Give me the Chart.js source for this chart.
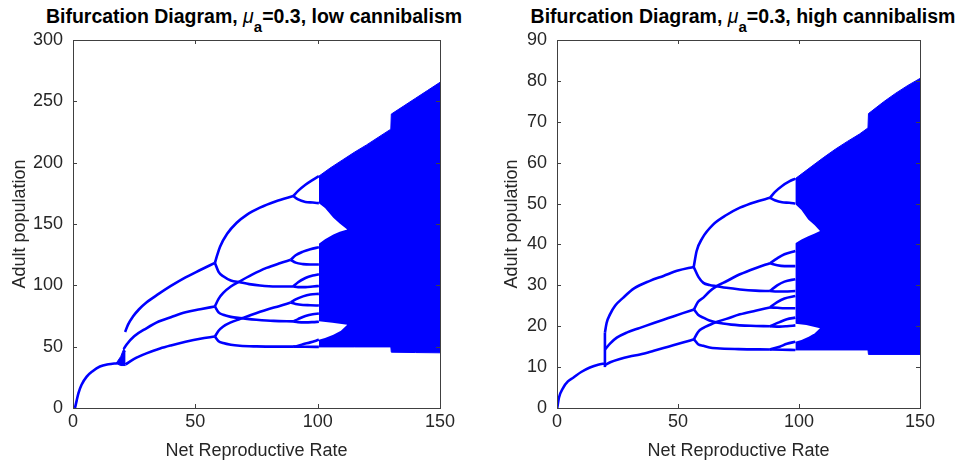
<!DOCTYPE html>
<html>
<head>
<meta charset="utf-8">
<script src="https://cdn.jsdelivr.net/npm/chart.js@4.4.1/dist/chart.umd.min.js"></script>
<style>
  body { margin: 0; background: #fff; width: 961px; height: 464px; position: relative; overflow: hidden;
         font-family: "Liberation Sans", Arial, sans-serif; }
  .ttl { position: absolute; top: 5px; font-weight: bold; font-size: 19.5px; color: #000; white-space: nowrap;
         transform: translateX(-50%); line-height: 22px; }
  .ttl i { font-weight: normal; }
  .ttl sub { font-size: 15px; vertical-align: -9px; line-height: 0; }
  canvas { position: absolute; top: 0; }
</style>
</head>
<body>
<div class="ttl" style="left:254px">Bifurcation Diagram, <i>μ</i><sub>a</sub>=0.3, low cannibalism</div>
<div class="ttl" style="left:743px">Bifurcation Diagram, <i>μ</i><sub>a</sub>=0.3, high cannibalism</div>
<canvas id="low" width="480" height="464" style="left:0"></canvas>
<canvas id="high" width="481" height="464" style="left:480px"></canvas>
<script>
var BLUE = '#0000ff';
var TXT = '#262626';
var FONT = '"Liberation Sans", Arial';

// ---- low cannibalism (left) : [R, adults] ----
var lowStem = [[0.8,0],[1.5,6],[2.2,12],[3.5,19],[5.6,25.6],[8,30],[11,33.8],[14.5,35.6],[18,36.5]];
var lowWinTop = [[17.6,36.3],[19.5,42],[20.7,48],[21.5,46]];
var lowWinBot = [[17.6,36.3],[19.5,34.6],[21.5,34.6]];
var lowP3Up = [[21.3,62],[22.5,68],[24.5,74.5],[27,80.5],[30,86],[35,93],[40,99.5],[46,106.5],[52,112.5],[58,118.3]];
var lowP3Mid = [[20.7,48],[22,52],[25,58.5],[30,65],[35,70.5],[40,74],[46,78],[52,80.5],[58,82.8]];
var lowP3Low = [[21.4,35.5],[25,40],[30,44.5],[35.6,48.5],[40,51],[46,54],[52,56.5],[58,58.3]];
var lowP6 = [
  [[58,118.3],[59,125],[60.1,131.5],[63,142],[66.9,151],[71,157.5],[76.4,163.3],[83,168.5],[90,172.8]],
  [[58,118.3],[59.5,111],[61.4,107.4],[64.5,104],[68.2,102.5],[72,101],[76.4,99.8],[83,99],[90,99]],
  [[58,82.8],[59.5,89],[61.4,93.8],[64.5,99],[68.2,103.3],[73,108.5],[79.1,114.2],[84.5,118],[89,120.8]],
  [[58,82.8],[59.5,78],[61.4,76],[64.5,74.3],[68.2,73.3],[75,72],[82,71],[90,70.6]],
  [[58,58.3],[59.5,63],[61.4,66.5],[64.5,69.8],[68.2,72.5],[73,76],[79.1,80.1],[84.5,83.2],[89,86]],
  [[58,58.3],[59.5,54.5],[61.4,52.9],[64.5,51.5],[68.2,50.7],[75,50.2],[82,50],[90,50]]
];
var lowP12 = [
  [[90,172.8],[92,177],[95,182],[98,186],[100.5,189]],
  [[90,172.8],[92,170],[95,168],[98,167.5],[100.5,167]],
  [[89,120.8],[91,124.5],[94,127.5],[97,129.5],[100.5,131]],
  [[89,120.8],[91,118.5],[94,117.3],[97,117],[100.5,117]],
  [[90,99],[92,102.5],[95,106],[98,108],[100.5,109]],
  [[90,99],[92,98.5],[95,98.5],[98,99],[100.5,99.5]],
  [[89,86],[91,88.5],[94,91],[97,92.5],[100.5,93]],
  [[89,86],[91,84.8],[94,84],[97,83.8],[100.5,83.5]],
  [[90,70.6],[92,72.5],[95,75],[98,76.5],[100.5,77]],
  [[90,70.6],[92,70],[95,69.8],[98,70],[100.5,70.3]],
  [[90,50],[91,50.2],[94,52],[97,53.5],[100.5,55.6]],
  [[90,50],[95,49.9],[100.5,49.8]]
];
var lowChaosTop = [[100.5,189],[105,195.5],[110,202],[115,208.5],[120,214.5],[125,221],[129.9,227.3],[130.1,239.6],[135,246],[140,252.5],[145,259],[150,265.5]];
var lowChaosBot = [[100.5,49.8],[115,49.8],[129.9,49.8],[130.1,45.5],[140,45.2],[150,45]];
var lowGapUpTop = [[99.5,167],[100.5,167],[103,163],[106.4,155],[109,150.5],[112.1,145.5]];
var lowGapUpBot = [[99.5,134],[100.5,134],[103,137.5],[106.4,141.5],[109,143.7],[112.1,145.5]];
var lowGapLoTop = [[99.5,70.8],[100.5,70.8],[106,69.5],[112.1,67.9]];
var lowGapLoBot = [[99.5,55.6],[100.5,55.6],[103,57],[106.4,59.7],[109.5,63],[112.1,67.9]];

// ---- high cannibalism (right) ----
var highStem = [[0.1,0],[0.8,2.5],[2.6,5],[4.5,6.5],[6.7,7.4],[10,8.8],[13.6,9.9],[17,10.6],[19.8,10.9]];
var highJump = [[19.8,10],[19.8,18.4]];
var highP3Up = [[19.8,18.4],[20.5,20.8],[21.9,22.9],[24,25],[27.4,27],[32,29.3],[38.4,31.1],[44,32.3],[50,33.6],[56.5,34.5]];
var highP3Mid = [[19.8,14.3],[22,15.8],[24.7,17.2],[29,18.5],[34.3,19.6],[40,20.8],[46,22],[52,23.2],[56.6,24.1]];
var highP3Low = [[19.8,10.5],[22,11.2],[26,12],[30,12.6],[34.3,13.1],[40,14],[46,15],[52,16],[56.6,16.8]];
var highP6 = [
  [[56.5,34.5],[57.7,38.4],[60,41.5],[64.6,44.9],[70,47.2],[75.6,49],[82,50.4],[88,51.4]],
  [[56.5,34.5],[58.5,32],[60.5,30.6],[63,30.1],[66,29.8],[70,29.4],[75.6,29],[82,28.7],[88,28.6]],
  [[56.6,24.1],[58.3,26],[60.5,27],[63,28.5],[66,29.8],[70,31],[75.6,32.7],[82,34.2],[88,35.4]],
  [[56.6,24.1],[58.3,22.8],[60.5,22.1],[63,21.4],[66,20.9],[72,20.4],[80,20.1],[88,20]],
  [[56.6,16.8],[58.3,18.6],[60.5,19.6],[63,20.3],[65.3,20.9],[70,21.8],[75.6,22.9],[82,23.8],[88,24.6]],
  [[56.6,16.8],[58.3,15.6],[60.5,15.2],[63,14.8],[66,14.6],[75,14.4],[88,14.3]]
];
var highP12 = [
  [[88,51.4],[90,52.8],[93,54.3],[96,55.4],[98.5,56.1]],
  [[88,51.4],[90,50.8],[93,50.3],[96,50.2],[98.5,50]],
  [[88,35.4],[91,36.6],[94,37.6],[98.5,38.4]],
  [[88,35.4],[91,34.9],[94,34.7],[98.5,34.7]],
  [[88,28.6],[91,30],[94,30.9],[98.5,31.5]],
  [[88,28.6],[91,28.5],[94,28.5],[98.5,28.6]],
  [[88,24.6],[91,25.9],[94,26.8],[98.5,27.4]],
  [[88,24.6],[91,24.5],[94,24.4],[98.5,24.4]],
  [[88,20],[92,21],[95,21.7],[98.5,22.1]],
  [[88,20],[92,19.9],[95,20],[98.5,20.2]],
  [[88,14.3],[92,15],[95,15.7],[98.5,16.2]],
  [[88,14.3],[93,14.25],[98.5,14.2]]
];
var highChaosTop = [[98.5,56.1],[105,59],[110,61.2],[115,63.3],[120,65.2],[125,67],[128.5,68.5],[128.7,72],[135,74.9],[140,77],[145,78.9],[150,80.6]];
var highChaosBot = [[98.5,14.2],[128.5,14.2],[128.7,13.1],[150,13.1]];
var highGapUpTop = [[97.5,49.8],[98.5,49.8],[101,48.4],[103.8,46.1],[106.5,44.7],[108.7,43.3]];
var highGapUpBot = [[97.5,40.3],[98.5,40.3],[101,41.2],[103.8,42],[106.5,42.7],[108.7,43.3]];
var highGapLoTop = [[97.5,20.6],[98.5,20.6],[103,20.3],[108.7,19.5]];
var highGapLoBot = [[97.5,16.2],[98.5,16.2],[101,16.6],[104,17.4],[106.5,18.3],[108.7,19.5]];

var xTicks = [0, 50, 100, 150];

function toXY(pts) {
  return pts.map(function (p) { return { x: p[0], y: p[1] }; });
}

function lineSet(pts) {
  return { data: toXY(pts), showLine: true, pointRadius: 0, borderColor: BLUE, borderWidth: 2.6,
           cubicInterpolationMode: 'monotone', fill: false, order: 1 };
}

// area between two boundaries, filled with colour
function addArea(sets, top, bot, color, order) {
  var idx = sets.length;
  var edge = color === BLUE ? 1 : 0;
  sets.push({ data: toXY(bot), showLine: true, pointRadius: 0, borderColor: color, borderWidth: edge,
              tension: 0, fill: false, order: order });
  sets.push({ data: toXY(top), showLine: true, pointRadius: 0, borderColor: color, borderWidth: edge,
              tension: 0, fill: idx, backgroundColor: color, order: order });
}

function buildSets(d) {
  var sets = [];
  addArea(sets, d.chaosTop, d.chaosBot, BLUE, 3);
  addArea(sets, d.gapUpTop, d.gapUpBot, '#ffffff', 2);
  addArea(sets, d.gapLoTop, d.gapLoBot, '#ffffff', 2);
  if (d.winTop) addArea(sets, d.winTop, d.winBot, BLUE, 1);
  d.lines.forEach(function (pts) { sets.push(lineSet(pts)); });
  return sets;
}

var boxPlugin = {
  id: 'box',
  afterDraw: function (chart) {
    var ctx = chart.ctx, a = chart.chartArea, x = chart.scales.x, y = chart.scales.y;
    ctx.save();
    ctx.strokeStyle = '#404040';
    ctx.lineWidth = 1;
    ctx.strokeRect(Math.round(a.left) + 0.5, Math.round(a.top) + 0.5,
                   Math.round(a.right - a.left), Math.round(a.bottom - a.top));
    ctx.beginPath();
    x.ticks.forEach(function (t) {
      var px = Math.round(x.getPixelForValue(t.value)) + 0.5;
      ctx.moveTo(px, a.bottom); ctx.lineTo(px, a.bottom - 4);
      ctx.moveTo(px, a.top); ctx.lineTo(px, a.top + 4);
    });
    y.ticks.forEach(function (t) {
      var py = Math.round(y.getPixelForValue(t.value)) + 0.5;
      ctx.moveTo(a.left, py); ctx.lineTo(a.left + 4, py);
      ctx.moveTo(a.right, py); ctx.lineTo(a.right - 4, py);
    });
    ctx.stroke();
    ctx.restore();
  }
};

function makeChart(id, sets, yMax, yStep, yWidth, padRight, yTitlePad) {
  return new Chart(document.getElementById(id), {
    type: 'line',
    data: { datasets: sets },
    options: {
      responsive: false,
      animation: false,
      events: [],
      layout: { padding: { top: 40, right: padRight, left: 0, bottom: 0 } },
      plugins: { legend: { display: false }, tooltip: { enabled: false } },
      scales: {
        x: {
          type: 'linear', min: 0, max: 150,
          afterBuildTicks: function (s) { s.ticks = xTicks.map(function (v) { return { value: v }; }); },
          ticks: { color: TXT, font: { size: 18, family: FONT }, padding: 3, maxRotation: 0 },
          grid: { display: false, drawTicks: false },
          border: { display: false },
          title: { display: true, text: 'Net Reproductive Rate', color: TXT,
                   font: { size: 18, family: FONT }, padding: { top: 0, bottom: 2 } },
          afterFit: function (s) { s.height = 56; }
        },
        y: {
          type: 'linear', min: 0, max: yMax,
          ticks: { stepSize: yStep, color: TXT, font: { size: 18, family: FONT }, padding: 10 },
          grid: { display: false, drawTicks: false },
          border: { display: false },
          title: { display: true, text: 'Adult population', color: TXT,
                   font: { size: 18, family: FONT }, padding: { top: yTitlePad, bottom: 0 } },
          afterFit: function (s) { s.width = yWidth; }
        }
      }
    },
    plugins: [boxPlugin]
  });
}

var lowSets = buildSets({
  chaosTop: lowChaosTop, chaosBot: lowChaosBot,
  gapUpTop: lowGapUpTop, gapUpBot: lowGapUpBot,
  gapLoTop: lowGapLoTop, gapLoBot: lowGapLoBot,
  winTop: lowWinTop, winBot: lowWinBot,
  lines: [lowStem, lowP3Up, lowP3Mid, lowP3Low].concat(lowP6, lowP12)
});
var highSets = buildSets({
  chaosTop: highChaosTop, chaosBot: highChaosBot,
  gapUpTop: highGapUpTop, gapUpBot: highGapUpBot,
  gapLoTop: highGapLoTop, gapLoBot: highGapLoBot,
  lines: [highStem, highJump, highP3Up, highP3Mid, highP3Low].concat(highP6, highP12)
});

makeChart('low', lowSets, 300, 50, 73, 40, 9);
makeChart('high', highSets, 90, 10, 77, 41, 21);
</script>
</body>
</html>
